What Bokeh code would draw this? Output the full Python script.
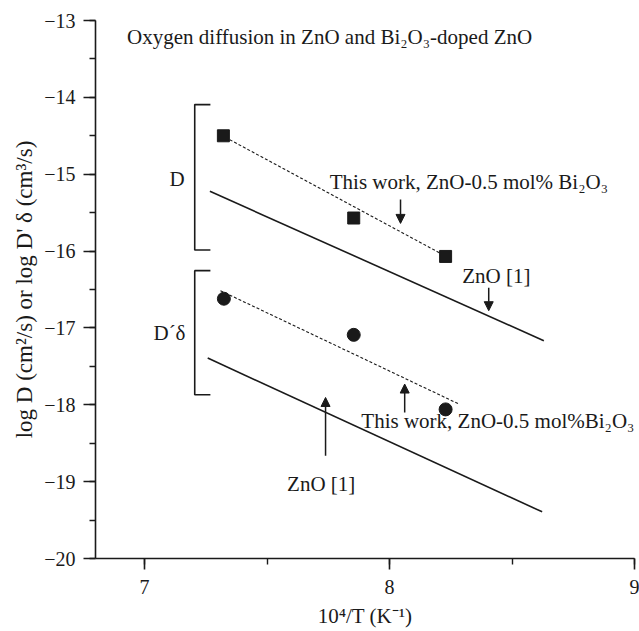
import math
from bokeh.plotting import figure
from bokeh.models import (Range1d, SingleIntervalTicker, CustomJSTickFormatter,
                          Label, Arrow, NormalHead, LinearAxis, FixedTicker)
from bokeh.embed import file_html
from bokeh.resources import INLINE

# ---------------- data ----------------
# this work, ZnO-0.5 mol% Bi2O3 : lattice diffusion D (squares)
d_x = [7.322, 7.854, 8.229]
d_y = [-14.50, -15.57, -16.07]
# this work : grain-boundary D'delta (circles)
gb_x = [7.324, 7.854, 8.229]
gb_y = [-16.62, -17.09, -18.06]
# fitted (dashed) lines through this work
d_fit_x = [7.33, 8.22]
d_fit_y = [-14.52, -16.05]
gb_fit_x = [7.31, 8.283]
gb_fit_y = [-16.515, -17.99]
# ZnO [1] literature lines (solid)
zno_d_x = [7.267, 8.63]
zno_d_y = [-15.222, -17.167]
zno_gb_x = [7.258, 8.623]
zno_gb_y = [-17.392, -19.393]
# brackets grouping D and D'delta
brk_d_x = [7.269, 7.205, 7.205, 7.269]
brk_d_y = [-14.094, -14.094, -15.986, -15.986]
brk_gb_x = [7.269, 7.205, 7.205, 7.269]
brk_gb_y = [-16.255, -16.255, -17.87, -17.87]

x_range = (6.8, 9.0)
y_range = (-20.0, -13.0)
ylabel_span = (-18.3, -13.9)   # extent of the y title along the axis

# annotation texts
title_text = "Oxygen diffusion in ZnO and Bi\u2082O\u2083-doped ZnO"
note_texts = ["This work, ZnO-0.5 mol% Bi\u2082O\u2083", "ZnO [1]",
              "This work, ZnO-0.5 mol%Bi\u2082O\u2083", "ZnO [1]"]
note_x = [7.756, 8.297, 7.885, 7.582]
note_y = [-15.105, -16.32, -18.208, -19.03]
# arrows (x, y_start, y_end)
arr_x = [8.045, 8.405, 8.062, 7.739]
arr_y0 = [-15.33, -16.477, -18.10, -18.664]
arr_y1 = [-15.64, -16.776, -17.73, -17.905]

xlabel = "10\u2074/T (K\u207b\u00b9)"
ylabel = "log D (cm\u00b2/s) or log D' \u03b4 (cm\u00b3/s)"

INK = "#1a1a1a"
FONT = "Liberation Serif"

# ---------------- figure ----------------
p = figure(width=639, height=631, x_range=Range1d(*x_range), y_range=Range1d(*y_range),
           output_backend="svg", toolbar_location=None,
           min_border_left=95, min_border_right=5, min_border_top=20, min_border_bottom=73)
p.outline_line_color = None
p.grid.visible = False
p.background_fill_color = "white"

fmt = CustomJSTickFormatter(code="return tick.toString().replace('-', '\u2212');")
for ax, tick_out in ((p.xaxis[0], 11), (p.yaxis[0], 12)):
    ax.ticker = SingleIntervalTicker(interval=1, num_minor_ticks=2)
    ax.formatter = fmt
    ax.axis_line_color = INK
    ax.axis_line_width = 1.6
    ax.major_tick_line_color = INK
    ax.major_tick_line_width = 1.6
    ax.major_tick_in = 0
    ax.major_tick_out = tick_out
    ax.minor_tick_line_color = INK
    ax.minor_tick_line_width = 1.4
    ax.minor_tick_in = 0
    ax.minor_tick_out = 6
    ax.major_label_text_font = FONT
    ax.major_label_text_font_size = "20px"
    ax.major_label_text_color = INK
    ax.axis_label_text_font = FONT
    ax.axis_label_text_font_style = "normal"
    ax.axis_label_text_color = INK

p.xaxis.major_label_standoff = 10
p.yaxis.major_label_standoff = 8
p.xaxis.axis_label = xlabel
p.xaxis.axis_label_standoff = 7
p.xaxis.axis_label_text_font_size = "21px"

# y title carried by a bare outer axis whose bounds centre it like the original
ytitle_axis = LinearAxis(axis_label=ylabel, bounds=ylabel_span, ticker=FixedTicker(ticks=[]),
                         axis_line_color=None, major_tick_line_color=None,
                         minor_tick_line_color=None, major_tick_in=0, major_tick_out=0,
                         minor_tick_in=0, minor_tick_out=0, major_label_standoff=0,
                         axis_label_standoff=5, axis_label_text_font=FONT,
                         axis_label_text_font_size="23px", axis_label_text_font_style="normal",
                         axis_label_text_color=INK)
p.add_layout(ytitle_axis, "left")

# lines
p.line(zno_d_x, zno_d_y, line_color=INK, line_width=1.6)
p.line(zno_gb_x, zno_gb_y, line_color=INK, line_width=1.6)
p.line(d_fit_x, d_fit_y, line_color=INK, line_width=1.1, line_dash="3 2")
p.line(gb_fit_x, gb_fit_y, line_color=INK, line_width=1.1, line_dash="3 2")
p.line(brk_d_x, brk_d_y, line_color=INK, line_width=1.6)
p.line(brk_gb_x, brk_gb_y, line_color=INK, line_width=1.6)

# markers
p.scatter(d_x, d_y, marker="square", size=12, fill_color=INK, line_color=INK)
p.scatter(gb_x, gb_y, marker="circle", size=13, fill_color=INK, line_color=INK)

# arrows
for x, y0, y1 in zip(arr_x, arr_y0, arr_y1):
    p.add_layout(Arrow(end=NormalHead(size=9, fill_color=INK, line_color=INK, line_width=1),
                       x_start=x, y_start=y0, x_end=x, y_end=y1,
                       line_color=INK, line_width=1.5))

def add_label(x, y, text, size="21px", align="left"):
    p.add_layout(Label(x=x, y=y, text=text, text_font=FONT, text_font_size=size,
                       text_color=INK, text_align=align, text_baseline="middle"))

add_label(6.929, -13.217, title_text)
for t, x, y in zip(note_texts, note_x, note_y):
    add_label(x, y, t)
add_label(7.133, -15.06, "D", align="center")
add_label(7.102, -17.07, "D\u00b4\u03b4", align="center")

open("out.html", "w").write(file_html(p, INLINE))
